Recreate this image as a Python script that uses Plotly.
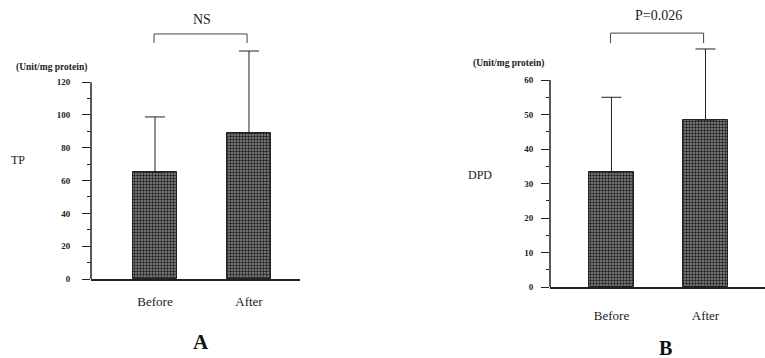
import plotly.graph_objects as go

categories = ["Before", "After"]
tp_values = [65, 89]
tp_sd = [33.8, 50]
dpd_values = [33.3, 48.4]
dpd_sd = [21.7, 20.6]
tp_ticks = [0, 20, 40, 60, 80, 100, 120]
dpd_ticks = [0, 10, 20, 30, 40, 50, 60]
tp_label = "NS"
dpd_label = "P=0.026"

W, H = 765, 358
SERIF = "Liberation Serif, Times New Roman, serif"

def px(x):
    return x / W

def py(y):
    return 1 - y / H

bar_style = dict(
    color="#777",
    line=dict(color="#222", width=1),
    pattern=dict(shape=".", fgcolor="#1e1e1e", bgcolor="#8c8c8c", size=3, solidity=0.5),
)

fig = go.Figure()
fig.add_trace(go.Bar(
    x=[0, 1], y=tp_values, width=0.47, marker=bar_style,
    error_y=dict(type="data", array=tp_sd, arrayminus=[0, 0], symmetric=False,
                 width=10, thickness=1, color="#222"),
    xaxis="x", yaxis="y", showlegend=False, cliponaxis=False,
))
fig.add_trace(go.Bar(
    x=[0, 1], y=dpd_values, width=0.48, marker=bar_style,
    error_y=dict(type="data", array=dpd_sd, arrayminus=[0, 0], symmetric=False,
                 width=10, thickness=1, color="#222"),
    xaxis="x2", yaxis="y2", showlegend=False, cliponaxis=False,
))

xa_common = dict(tickmode="array", tickvals=[0, 1], ticktext=categories,
                 ticks="", showline=True, linecolor="#222", linewidth=1.5,
                 showgrid=False, zeroline=False, automargin=False,
                 tickfont=dict(family=SERIF, size=13, color="#222"))
ya_common = dict(showline=False, showgrid=False, zeroline=False, automargin=False,
                 ticks="outside", ticklen=8, tickcolor="#222", tickwidth=1,
                 tickfont=dict(family=SERIF, size=9, color="#222", weight="bold"))

fig.update_layout(
    template="none",
    width=W, height=H, margin=dict(l=0, r=0, t=0, b=0, pad=0),
    paper_bgcolor="white", plot_bgcolor="white", bargap=0,
    xaxis=dict(domain=[px(91), px(300)], range=[-0.681, 1.543],
               ticklabelstandoff=10, **xa_common),
    yaxis=dict(domain=[py(279), py(30)], range=[0, 151.8],
               tickmode="array", tickvals=tp_ticks, ticklabelstandoff=10,
               minor=dict(tickmode="array", tickvals=[10, 30, 50, 70, 90, 110],
                          ticks="outside", ticklen=3, tickcolor="#222"),
               anchor="x", **ya_common),
    xaxis2=dict(domain=[px(550), 1], range=[-0.654, 1.633], anchor="y2",
                ticklabelstandoff=16, **xa_common),
    yaxis2=dict(domain=[py(287), py(30)], range=[0, 74.5],
                tickmode="array", tickvals=dpd_ticks, ticklabelstandoff=6,
                minor=dict(tickmode="array", tickvals=[5, 15, 25, 35, 45, 55],
                           ticks="outside", ticklen=3, tickcolor="#222"),
                anchor="x2", **ya_common),
)

# y axis lines that stop at the top tick
fig.add_shape(type="line", xref="paper", yref="y", x0=px(91), x1=px(91),
              y0=0, y1=tp_ticks[-1], line=dict(color="#222", width=1.5))
fig.add_shape(type="line", xref="paper", yref="y2", x0=px(550), x1=px(550),
              y0=0, y1=dpd_ticks[-1], line=dict(color="#222", width=1.5))

def text(x, y, s, font):
    fig.add_annotation(xref="paper", yref="paper", x=x, y=y, text=s, showarrow=False,
                       xanchor="center", yanchor="middle", font=font)

# significance brackets
def bracket(xr, yr, ytop, ydrop, label, ylab):
    for x0, y0, x1, y1 in [(-0.01, ytop, 0.98, ytop), (-0.01, ytop, -0.01, ydrop), (0.98, ytop, 0.98, ydrop)]:
        fig.add_shape(type="line", xref=xr, yref=yr, x0=x0, x1=x1, y0=y0, y1=y1,
                      line=dict(color="#444", width=1))
    fig.add_annotation(xref=xr, yref="paper", x=0.5, y=ylab, text=label, showarrow=False,
                       xanchor="center", yanchor="middle",
                       font=dict(family=SERIF, size=14, color="#222"))

bracket("x", "y", 149.4, 143.9, tp_label, py(19))
bracket("x2", "y2", 73.6, 70.7, dpd_label, py(16))

ann_font = dict(family=SERIF, size=9.5, color="#222", weight="bold")
text(px(52), py(67), "(Unit/mg protein)", ann_font)
text(px(508), py(63), "(Unit/mg protein)", ann_font)
text(px(18), py(160), "TP", dict(family=SERIF, size=12, color="#222"))
text(px(480), py(175), "DPD", dict(family=SERIF, size=12, color="#222"))
text(px(201), py(342), "A", dict(family=SERIF, size=21, color="#111", weight="bold"))
text(px(665), py(348), "B", dict(family=SERIF, size=20, color="#111", weight="bold"))

fig.write_html("out.html", config={"displayModeBar": False},
               post_script="document.body.style.margin='0';document.body.style.overflow='hidden';")
